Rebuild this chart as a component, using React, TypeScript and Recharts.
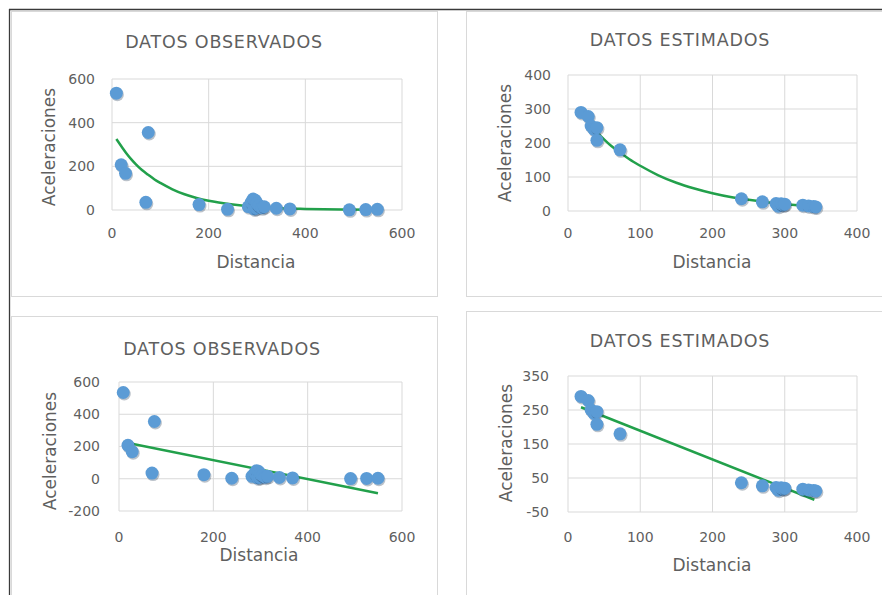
import { ComposedChart, Scatter, Line, XAxis, YAxis, CartesianGrid } from "recharts";

// observed points (Distancia / Aceleraciones)
const observedDist = [9, 19, 28, 70, 75, 180, 239, 282, 288, 292, 294, 296, 298, 300, 304, 310, 315, 340, 368, 491, 525, 549];
const observedAcc = [535, 207, 168, 35, 355, 25, 3, 15, 35, 50, 5, 45, 8, 30, 20, 10, 15, 8, 5, 1, 2, 3];

// estimated points
const estimatedDist = [18, 28, 32, 36, 40, 40, 72, 240, 269, 288, 291, 295, 298, 300, 325, 333, 340, 343];
const estimatedAcc = [290, 278, 250, 240, 245, 208, 180, 36, 27, 22, 14, 21, 18, 20, 17, 15, 13, 12];

// trend lines
const obsExpTrendDist = [9, 20, 30, 40, 50, 62, 75, 88, 100, 125, 150, 175, 200, 250, 300, 350, 400, 475, 549];
const obsExpTrendAcc = [325, 290, 259, 232, 208, 183, 161, 140, 124, 95, 72, 55, 42, 25, 14, 8, 5, 2, 1];
const estExpTrendDist = [18, 30, 45, 60, 72, 85, 100, 125, 150, 175, 200, 225, 250, 275, 300, 320, 341];
const estExpTrendAcc = [285, 255, 221, 191, 172, 152, 133, 105, 83, 66, 52, 41, 33, 26, 20, 17, 14];
const obsLinTrendDist = [9, 549];
const obsLinTrendAcc = [228, -90];
const estLinTrendDist = [18, 341];
const estLinTrendAcc = [258, -14];

const obsXTicks = [0, 200, 400, 600];
const estXTicks = [0, 100, 200, 300, 400];
const obsYTicks = [0, 200, 400, 600];
const estYTicks = [0, 100, 200, 300, 400];
const obsLinYTicks = [-200, 0, 200, 400, 600];
const estLinYTicks = [-50, 50, 150, 250, 350];

const FONT = "'DejaVu Sans', sans-serif";
const TEXT = "#5f5f5f";
const GRID = "#d9d9d9";
const BLUE = "#5B9BD5";
const GREEN = "#22A04B";

const toPoints = (xs: number[], ys: number[]) => xs.map((x, i) => ({ x, y: ys[i] }));

const Dot = (p: any) => (
  <g>
    <circle cx={p.cx + 1} cy={p.cy + 1.5} r={6.5} fill="#1f3550" opacity={0.3} />
    <circle cx={p.cx} cy={p.cy} r={6.5} fill={BLUE} />
  </g>
);

type PanelProps = {
  box: [number, number, number, number]; // left, top, width, height
  plot: [number, number, number, number]; // left, top, right, bottom (page coords)
  xDomain: [number, number];
  yDomain: [number, number];
  xTicks: number[];
  yTicks: number[];
  xTickMargin: number;
  yTickMargin: number;
  points: { x: number; y: number }[];
  trend: { x: number; y: number }[];
  curved: boolean;
};

function Panel(props: PanelProps) {
  const [bx, by, bw, bh] = props.box;
  const [l, t, r, b] = props.plot;
  const tick = { fontFamily: FONT, fontSize: 14, fill: TEXT };
  return (
    <div style={{ position: "absolute", left: bx, top: by }}>
      <ComposedChart
        width={bw}
        height={bh}
        margin={{ top: t - by, right: bx + bw - r, bottom: 0, left: 0 }}
      >
        <CartesianGrid stroke={GRID} horizontalValues={props.yTicks} verticalValues={props.xTicks} />
        <XAxis
          type="number"
          dataKey="x"
          domain={props.xDomain}
          ticks={props.xTicks}
          interval={0}
          height={by + bh - b}
          axisLine={false}
          tickLine={false}
          tickMargin={props.xTickMargin}
          tick={tick}
        />
        <YAxis
          type="number"
          dataKey="y"
          domain={props.yDomain}
          ticks={props.yTicks}
          interval={0}
          width={l - bx}
          axisLine={false}
          tickLine={false}
          tickMargin={props.yTickMargin}
          tick={tick}
        />
        <Scatter data={props.points} fill={BLUE} shape={Dot} isAnimationActive={false} />
        <Line
          data={props.trend}
          dataKey="y"
          type={props.curved ? "monotone" : "linear"}
          stroke={GREEN}
          strokeWidth={2.5}
          dot={false}
          activeDot={false}
          isAnimationActive={false}
        />
      </ComposedChart>
    </div>
  );
}

const titles = [
  { text: "DATOS OBSERVADOS", x: 224, y: 48 },
  { text: "DATOS ESTIMADOS", x: 680, y: 46 },
  { text: "DATOS OBSERVADOS", x: 222, y: 355 },
  { text: "DATOS ESTIMADOS", x: 680, y: 347 },
];
const xTitles = [
  { x: 256, y: 268 },
  { x: 712, y: 268 },
  { x: 259, y: 561 },
  { x: 712, y: 571 },
];
const yTitles = [
  { x: 49, y: 147 },
  { x: 505, y: 143 },
  { x: 50, y: 451 },
  { x: 506, y: 443 },
];

export default function App() {
  const observed = toPoints(observedDist, observedAcc);
  const estimated = toPoints(estimatedDist, estimatedAcc);
  return (
    <div style={{ position: "absolute", left: 0, top: 0, width: 882, height: 595, background: "#fff", overflow: "hidden" }}>
      <svg width={882} height={595} style={{ position: "absolute", left: 0, top: 0 }}>
        <rect x={11.5} y={11.5} width={426} height={285} fill="none" stroke={GRID} />
        <rect x={466.5} y={11.5} width={430} height={285} fill="none" stroke={GRID} />
        <rect x={11.5} y={316.5} width={426} height={300} fill="none" stroke={GRID} />
        <rect x={466.5} y={311.5} width={430} height={300} fill="none" stroke={GRID} />
      </svg>

      <Panel
        box={[12, 12, 425, 284]}
        plot={[112, 79, 402, 210]}
        xDomain={[0, 600]}
        yDomain={[0, 600]}
        xTicks={obsXTicks}
        yTicks={obsYTicks}
        xTickMargin={12}
        yTickMargin={11}
        points={observed}
        trend={toPoints(obsExpTrendDist, obsExpTrendAcc)}
        curved
      />
      <Panel
        box={[467, 12, 415, 284]}
        plot={[568, 75, 857, 211]}
        xDomain={[0, 400]}
        yDomain={[0, 400]}
        xTicks={estXTicks}
        yTicks={estYTicks}
        xTickMargin={11}
        yTickMargin={11}
        points={estimated}
        trend={toPoints(estExpTrendDist, estExpTrendAcc)}
        curved
      />
      <Panel
        box={[12, 317, 425, 278]}
        plot={[119, 382, 402, 511]}
        xDomain={[0, 600]}
        yDomain={[-200, 600]}
        xTicks={obsXTicks}
        yTicks={obsLinYTicks}
        xTickMargin={15}
        yTickMargin={13}
        points={observed}
        trend={toPoints(obsLinTrendDist, obsLinTrendAcc)}
        curved={false}
      />
      <Panel
        box={[467, 312, 415, 283]}
        plot={[568, 376, 857, 512]}
        xDomain={[0, 400]}
        yDomain={[-50, 350]}
        xTicks={estXTicks}
        yTicks={estLinYTicks}
        xTickMargin={14}
        yTickMargin={13}
        points={estimated}
        trend={toPoints(estLinTrendDist, estLinTrendAcc)}
        curved={false}
      />

      <svg width={882} height={595} style={{ position: "absolute", left: 0, top: 0, pointerEvents: "none" }}>
        <line x1={9.5} y1={9} x2={9.5} y2={595} stroke="#3a3a3a" strokeWidth={1.3} />
        <line x1={9} y1={9.5} x2={882} y2={9.5} stroke="#3a3a3a" strokeWidth={1.3} />
        {titles.map((t, i) => (
          <text key={i} x={t.x} y={t.y} textAnchor="middle" fontFamily={FONT} fontSize={17.5} letterSpacing={0.8} fill={TEXT}>
            {t.text}
          </text>
        ))}
        {xTitles.map((t, i) => (
          <text key={i} x={t.x} y={t.y} textAnchor="middle" fontFamily={FONT} fontSize={17} fill={TEXT}>
            Distancia
          </text>
        ))}
        {yTitles.map((t, i) => (
          <text
            key={i}
            x={t.x}
            y={t.y}
            textAnchor="middle"
            dominantBaseline="central"
            transform={`rotate(-90 ${t.x} ${t.y})`}
            fontFamily={FONT}
            fontSize={17}
            fill={TEXT}
          >
            Aceleraciones
          </text>
        ))}
      </svg>
    </div>
  );
}
